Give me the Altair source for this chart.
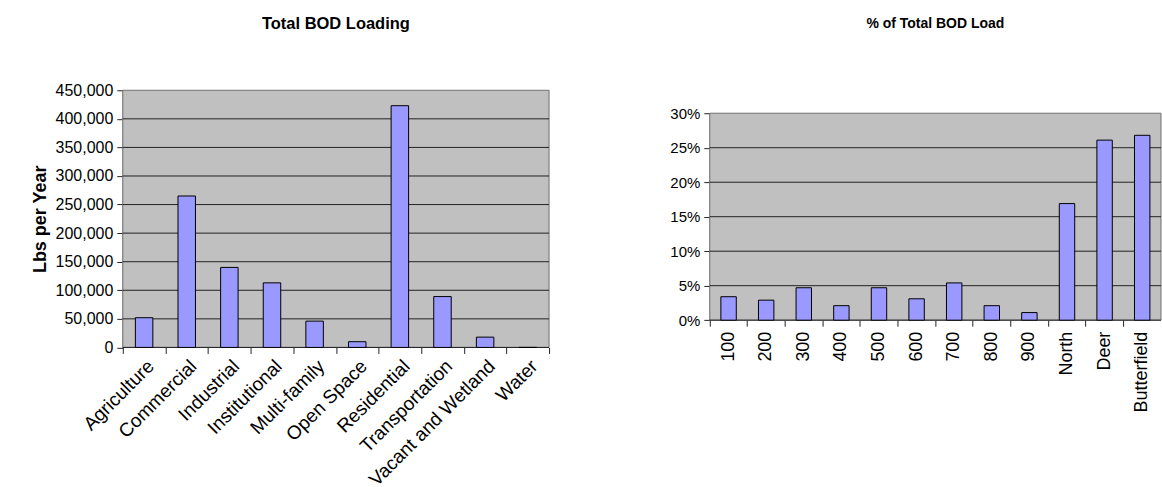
import altair as alt
import pandas as pd

# Total BOD loading by land use (lbs per year)
land_use = [
    "Agriculture", "Commercial", "Industrial", "Institutional", "Multi-family",
    "Open Space", "Residential", "Transportation", "Vacant and Wetland", "Water",
]
bod_lbs = [52000, 265000, 140000, 113000, 46000, 10000, 423000, 89000, 18000, 0]

# Share of the total BOD load by subbasin
subbasins = ["100", "200", "300", "400", "500", "600", "700", "800", "900",
             "North", "Deer", "Butterfield"]
bod_share = [0.034, 0.029, 0.047, 0.021, 0.047, 0.031, 0.054, 0.021, 0.011,
             0.169, 0.261, 0.268]

lbs_ticks = [0, 50000, 100000, 150000, 200000, 250000, 300000, 350000, 400000, 450000]
share_ticks = [0.0, 0.05, 0.10, 0.15, 0.20, 0.25, 0.30]

FONT = "Liberation Sans"
BAR_FILL = "#9999FF"
PLOT_BG = "#C0C0C0"
BORDER = "#707070"
LINE = "#222222"

# panel geometry (pixels)
L_W, L_H = 427, 257.6
R_W = 452
R_H, R_TOP = 230.3, 23.0

NO_FRAME = alt.ViewBackground(strokeOpacity=0, strokeWidth=0, fillOpacity=0)


def chart_title(text, size, offset):
    return alt.TitleParams(
        text=text, font=FONT, fontSize=size, fontWeight="bold", color="black",
        anchor="middle", frame="group", offset=offset,
    )


def y_axis(values, fmt, size, title=None):
    kw = dict(
        values=values, format=fmt, grid=False,
        domain=True, domainColor=LINE, ticks=True, tickColor=LINE, tickSize=6,
        labelFont=FONT, labelFontSize=size, labelColor="black", labelPadding=4,
    )
    if title:
        kw.update(title=title, titleFont=FONT, titleFontSize=18,
                  titleFontWeight="bold", titleColor="black", titlePadding=6)
    else:
        kw.update(title=None)
    return alt.Axis(**kw)


def panel(df, cat_field, cats, val_field, y_scale, axis_y, axis_x,
          tick_values, top_value, plot_w):
    frame_df = pd.DataFrame({"top": [top_value], "base": [0]})
    grid_df = pd.DataFrame({"level": tick_values[:-1]})

    # grey plot area with its border
    plot_bg = (
        alt.Chart(frame_df)
        .mark_rect(fill=PLOT_BG, stroke=BORDER, strokeWidth=1)
        .encode(
            y=alt.Y("top:Q", scale=y_scale, axis=axis_y),
            y2="base:Q",
            x=alt.value(0), x2=alt.value(plot_w),
        )
    )
    # horizontal gridlines, drawn behind the bars
    grid = (
        alt.Chart(grid_df)
        .mark_rule(color=LINE, strokeWidth=1)
        .encode(y=alt.Y("level:Q", scale=y_scale, axis=axis_y))
    )
    bars = (
        alt.Chart(df)
        .mark_bar(fill=BAR_FILL, stroke="black", strokeWidth=1,
                  width=alt.RelativeBandSize(0.41))
        .encode(
            x=alt.X(f"{cat_field}:N", sort=cats,
                    scale=alt.Scale(paddingInner=0, paddingOuter=0),
                    axis=axis_x),
            y=alt.Y(f"{val_field}:Q", scale=y_scale, axis=axis_y),
        )
    )
    return alt.layer(plot_bg, grid, bars)


use_df = pd.DataFrame({"use": land_use, "lbs": bod_lbs})
basin_df = pd.DataFrame({"basin": subbasins, "share": bod_share})

left = panel(
    use_df, "use", land_use, "lbs",
    y_scale=alt.Scale(domain=[0, 450000], nice=False),
    axis_y=y_axis(lbs_ticks, ",d", 16, "Lbs per Year"),
    axis_x=alt.Axis(
        title=None, labelAngle=-45, labelFont=FONT, labelFontSize=19,
        labelColor="black", tickBand="extent", tickSize=6, tickColor=LINE,
        domain=False, labelPadding=3,
    ),
    tick_values=lbs_ticks, top_value=450000, plot_w=L_W,
).properties(width=L_W, height=L_H, view=NO_FRAME,
             title=chart_title("Total BOD Loading", 16.5, 50))

right = panel(
    basin_df, "basin", subbasins, "share",
    y_scale=alt.Scale(domain=[0, 0.30], nice=False, range=[R_H, R_TOP]),
    axis_y=y_axis(share_ticks, ".0%", 15),
    axis_x=alt.Axis(
        title=None, labelAngle=-90, labelFont=FONT, labelFontSize=18,
        labelColor="black", bandPosition=0, tickExtra=False,
        tickSize=6, tickColor=LINE, domain=False, labelPadding=5,
    ),
    tick_values=share_ticks, top_value=0.30, plot_w=R_W,
).properties(width=R_W, height=R_H, view=NO_FRAME,
             title=chart_title("% of Total BOD Load", 14, 59))

chart = (
    alt.hconcat(left, right, spacing=119)
    .properties(padding={"left": 31, "top": 15, "right": 0, "bottom": 0})
    .configure_view(strokeWidth=0, strokeOpacity=0)
    .configure(background="white")
)

chart.save("out.html", embed_options={"renderer": "svg", "actions": False})
